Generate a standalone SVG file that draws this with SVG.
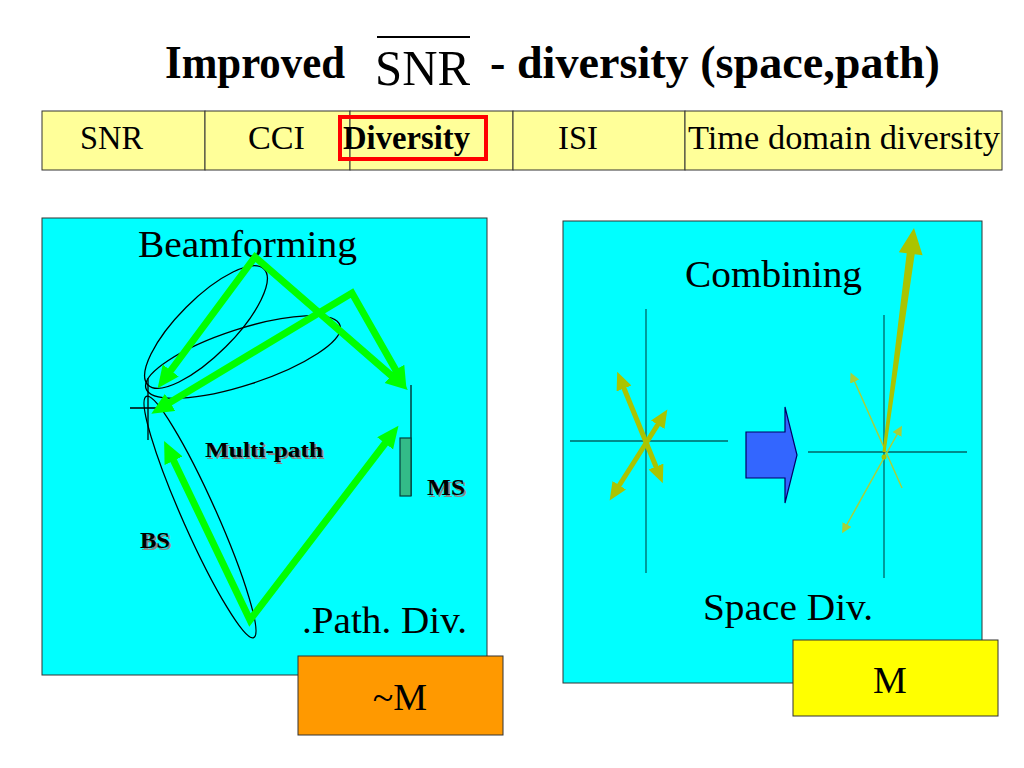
<svg xmlns="http://www.w3.org/2000/svg" width="1024" height="768" viewBox="0 0 1024 768">
<style>
text{font-family:'Liberation Serif','Times New Roman',Tinos,'DejaVu Serif',serif}
.t{fill:#000}
.b{font-weight:bold}
.cell{fill:#FFFF99;stroke:#333;stroke-width:1}
.panel{fill:#00FFFF;stroke:#333;stroke-width:1}
.g{fill:none;stroke:#00FF00;stroke-width:7;stroke-linejoin:miter}
.ell{fill:none;stroke:#000;stroke-width:1.3}
.ax{stroke:#006666;stroke-width:1.3}
.ol{fill:none;stroke:#AAC400;stroke-width:5}
.th{fill:none;stroke:#A6D03A;stroke-width:1.5}
.sh{fill:#888}
</style>
<defs>
<marker id="ga" markerUnits="userSpaceOnUse" markerWidth="24" markerHeight="22" refX="13" refY="10" orient="auto-start-reverse">
<path d="M0,0 L22,10 L0,20 z" fill="#00FF00"/>
</marker>
<marker id="oa" markerUnits="userSpaceOnUse" markerWidth="20" markerHeight="18" refX="8" refY="8" orient="auto-start-reverse">
<path d="M0,0 L18,8 L0,16 z" fill="#AAC400"/>
</marker>
<marker id="ta" markerUnits="userSpaceOnUse" markerWidth="12" markerHeight="12" refX="4" refY="5" orient="auto-start-reverse">
<path d="M0,0 L10,5 L0,10 z" fill="#A6D03A"/>
</marker>
</defs>
<rect width="1024" height="768" fill="#fff"/>

<g id="title">
<text class="t b" x="165" y="78" font-size="46" textLength="180" lengthAdjust="spacingAndGlyphs">Improved</text>
<text class="t" x="375" y="85" font-size="50" textLength="95" lengthAdjust="spacingAndGlyphs">SNR</text>
<line x1="377" y1="37" x2="470" y2="37" stroke="#000" stroke-width="2"/>
<text class="t b" x="490" y="78" font-size="46" textLength="450" lengthAdjust="spacingAndGlyphs">- diversity (space,path)</text>
</g>

<g id="table">
<rect class="cell" x="42" y="111" width="163" height="59"/>
<rect class="cell" x="205" y="111" width="145" height="59"/>
<rect class="cell" x="350" y="111" width="163" height="59"/>
<rect class="cell" x="513" y="111" width="172" height="59"/>
<rect class="cell" x="685" y="111" width="317" height="59"/>
<text class="t" x="80" y="149" font-size="34" textLength="63" lengthAdjust="spacingAndGlyphs">SNR</text>
<text class="t" x="248" y="149" font-size="34" textLength="57" lengthAdjust="spacingAndGlyphs">CCI</text>
<text class="t b" x="343" y="149" font-size="34" textLength="127" lengthAdjust="spacingAndGlyphs">Diversity</text>
<text class="t" x="558" y="149" font-size="34" textLength="40" lengthAdjust="spacingAndGlyphs">ISI</text>
<text class="t" x="688" y="149" font-size="34" textLength="312" lengthAdjust="spacingAndGlyphs">Time domain diversity</text>
<rect x="340" y="117" width="146" height="42" fill="none" stroke="#FF0000" stroke-width="4"/>
</g>

<g id="path-div-panel">
<rect class="panel" x="42" y="218" width="445" height="457"/>
<text class="t" x="138" y="257" font-size="38" textLength="219" lengthAdjust="spacingAndGlyphs">Beamforming</text>
<text class="t" x="302" y="633" font-size="38" textLength="165" lengthAdjust="spacingAndGlyphs">.Path. Div.</text>
<g id="ms">
<line x1="411" y1="385" x2="411" y2="496" stroke="#004040" stroke-width="1.5"/>
<rect x="400" y="438" width="11" height="58" fill="#33BB88" stroke="#004040" stroke-width="1.2"/>
</g>
<g id="bs">
<line x1="130" y1="408" x2="167" y2="408" stroke="#000" stroke-width="1.3"/>
<line x1="148" y1="378" x2="148" y2="440" stroke="#000" stroke-width="1.3"/>
</g>
<ellipse class="ell" cx="206" cy="327" rx="82" ry="28" transform="rotate(-45 206 327)"/>
<ellipse class="ell" cx="243" cy="357" rx="102" ry="28" transform="rotate(-18 243 357)"/>
<ellipse class="ell" cx="200" cy="517" rx="132" ry="17" transform="rotate(66 200 517)"/>
<text class="sh b" x="207" y="459" font-size="22" textLength="118" lengthAdjust="spacingAndGlyphs">Multi-path</text>
<text class="t b" x="205" y="457" font-size="22" textLength="118" lengthAdjust="spacingAndGlyphs">Multi-path</text>
<text class="sh b" x="429" y="497" font-size="24" textLength="38" lengthAdjust="spacingAndGlyphs">MS</text>
<text class="t b" x="427" y="495" font-size="24" textLength="38" lengthAdjust="spacingAndGlyphs">MS</text>
<text class="sh b" x="142" y="550" font-size="24" textLength="30" lengthAdjust="spacingAndGlyphs">BS</text>
<text class="t b" x="140" y="548" font-size="24" textLength="30" lengthAdjust="spacingAndGlyphs">BS</text>
</g>

<g id="connectors">
<polyline class="g" points="163,381 255,257 401,384" marker-start="url(#ga)" marker-end="url(#ga)"/>
<polyline class="g" points="159,409 352,293 402,381" marker-start="url(#ga)" marker-end="url(#ga)"/>
<polyline class="g" points="168,449 250,620 393,433" marker-start="url(#ga)" marker-end="url(#ga)"/>
</g>

<g id="space-div-panel">
<rect class="panel" x="563" y="221" width="419" height="462"/>
<text class="t" x="685" y="287" font-size="38" textLength="177" lengthAdjust="spacingAndGlyphs">Combining</text>
<text class="t" x="703" y="620" font-size="38" textLength="170" lengthAdjust="spacingAndGlyphs">Space Div.</text>
<g id="left-axes">
<line class="ax" x1="646" y1="309" x2="646" y2="573"/>
<line class="ax" x1="570" y1="441" x2="728" y2="441"/>
<line class="ol" x1="621" y1="381" x2="659" y2="474" marker-start="url(#oa)" marker-end="url(#oa)"/>
<line class="ol" x1="662" y1="418" x2="615" y2="492" marker-start="url(#oa)" marker-end="url(#oa)"/>
</g>
<polygon id="block-arrow" points="746,432 785,432 785,407 797,455 785,503 785,478 746,478" fill="#3366FF" stroke="#000066" stroke-width="1.2"/>
<g id="right-axes">
<line class="ax" x1="884" y1="315" x2="884" y2="578"/>
<line class="ax" x1="808" y1="452" x2="967" y2="452"/>
<line class="th" x1="853" y1="378" x2="902" y2="488" marker-start="url(#ta)"/>
<line class="th" x1="845" y1="528" x2="899" y2="431" marker-start="url(#ta)" marker-end="url(#ta)"/>
<polygon points="882.5,451.8 885.5,452.2 914.7,254.3 922.6,255.3 914,228 898.8,252.3 906.7,253.3" fill="#AAC400"/>
<circle cx="884" cy="457" r="2.5" fill="#AAC400"/>
</g>
</g>

<g id="approx-m">
<rect x="298" y="656" width="205" height="79" fill="#FF9900" stroke="#333" stroke-width="1"/>
<text class="t" x="400" y="710" font-size="38" text-anchor="middle">~M</text>
</g>
<g id="m">
<rect x="793" y="640" width="205" height="76" fill="#FFFF00" stroke="#333" stroke-width="1"/>
<text class="t" x="890" y="693" font-size="38" text-anchor="middle">M</text>
</g>
</svg>
